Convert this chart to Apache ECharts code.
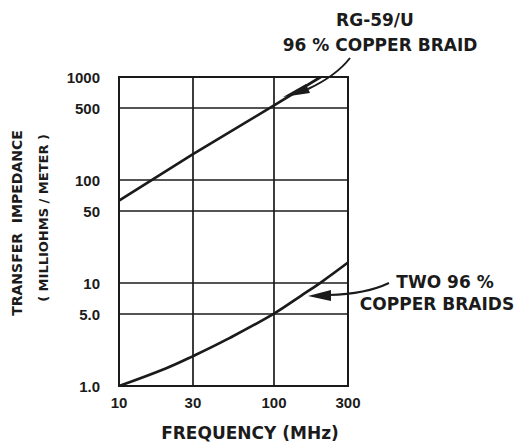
<!DOCTYPE html>
<html>
<head>
<meta charset="utf-8">
<script src="https://cdn.jsdelivr.net/npm/echarts@6/dist/echarts.min.js"></script>
<style>
  html, body { margin: 0; padding: 0; background: #ffffff; }
  #chart { width: 516px; height: 442px; }
</style>
</head>
<body>
<div id="chart"></div>
<script>
// ---- data ----
const xTicks = [10, 30, 100, 300];
const xTickLabels = ['10', '30', '100', '300'];
const yTicks = [1, 5, 10, 50, 100, 500, 1000];
const yTickLabels = ['1.0', '5.0', '10', '50', '100', '500', '1000'];

// RG-59/U, 96 % copper braid: [frequency MHz, milliohms/meter]
const rg59Freq = [10, 30, 100, 200];
const rg59Z = [63, 178, 530, 1000];

// Two 96 % copper braids
const twoBraidFreq = [10, 20, 30, 50, 100, 150, 200, 300];
const twoBraidZ = [1.0, 1.48, 1.95, 2.85, 5.05, 7.55, 10.1, 15.8];

const xTitle = 'FREQUENCY (MHz)';
const yTitle1 = 'TRANSFER  IMPEDANCE';
const yTitle2 = '( MILLIOHMS / METER )';
const note1a = 'RG-59/U';
const note1b = '96 % COPPER BRAID';
const note2a = 'TWO 96 %';
const note2b = 'COPPER BRAIDS';

const ink = '#1b1b1b';
const font = 'DejaVu Sans';

function pairs(xs, ys) { return xs.map((x, i) => [x, ys[i]]); }

const chart = echarts.init(document.getElementById('chart'), null, { renderer: 'svg' });

chart.setOption({
  backgroundColor: '#ffffff',
  animation: false,
  grid: {
    left: 119, right: 168, top: 77, bottom: 56,
    show: true, borderColor: ink, borderWidth: 2, backgroundColor: 'transparent'
  },
  xAxis: {
    type: 'log', logBase: 10, min: 10, max: 300,
    axisLine: { show: true, lineStyle: { color: ink, width: 2 } },
    axisTick: { show: false, customValues: xTicks },
    splitLine: { show: true, lineStyle: { color: ink, width: 1.7 } },
    axisLabel: {
      customValues: xTicks,
      margin: 9,
      color: ink, fontFamily: 'Liberation Sans', fontWeight: 'bold', fontSize: 15,
      formatter: v => xTickLabels[xTicks.indexOf(Math.round(v))] ?? ''
    }
  },
  yAxis: {
    type: 'log', logBase: 10, min: 1, max: 1000,
    axisLine: { show: true, lineStyle: { color: ink, width: 2 } },
    axisTick: { show: false, customValues: yTicks },
    splitLine: { show: true, lineStyle: { color: ink, width: 1.7 } },
    axisLabel: {
      customValues: yTicks,
      margin: 19,
      color: ink, fontFamily: 'Liberation Sans', fontWeight: 'bold', fontSize: 15,
      formatter: v => yTickLabels[yTicks.indexOf(Math.round(v))] ?? ''
    }
  },
  series: [
    {
      name: note1a, type: 'line', data: pairs(rg59Freq, rg59Z),
      showSymbol: false, smooth: false,
      lineStyle: { color: ink, width: 2.7 }
    },
    {
      name: note2b, type: 'line', data: pairs(twoBraidFreq, twoBraidZ),
      showSymbol: false, smooth: 0.4,
      lineStyle: { color: ink, width: 2.7 }
    }
  ],
  graphic: [
    {
      type: 'text', x: 17, y: 223, rotation: Math.PI / 2,
      style: { text: yTitle1, fill: ink, font: 'bold 14px ' + font, align: 'center', verticalAlign: 'middle' }
    },
    {
      type: 'text', x: 43, y: 218, rotation: Math.PI / 2,
      style: { text: yTitle2, fill: ink, font: 'bold 13px ' + font, align: 'center', verticalAlign: 'middle' }
    },
    {
      type: 'text', x: 250, y: 433,
      style: { text: xTitle, fill: ink, font: 'bold 17px ' + font, align: 'center', verticalAlign: 'middle' }
    },
    {
      type: 'text', x: 375, y: 20,
      style: { text: note1a, fill: ink, font: 'bold 17px ' + font, align: 'center', verticalAlign: 'middle' }
    },
    {
      type: 'text', x: 380, y: 45,
      style: { text: note1b, fill: ink, font: 'bold 17px ' + font, align: 'center', verticalAlign: 'middle' }
    },
    {
      type: 'text', x: 445, y: 282,
      style: { text: note2a, fill: ink, font: 'bold 17px ' + font, align: 'center', verticalAlign: 'middle' }
    },
    {
      type: 'text', x: 437, y: 304,
      style: { text: note2b, fill: ink, font: 'bold 17px ' + font, align: 'center', verticalAlign: 'middle' }
    },
    {
      type: 'bezierCurve',
      shape: { x1: 350, y1: 58, x2: 308, y2: 89, cpx1: 336, cpy1: 76 },
      style: { stroke: ink, lineWidth: 2, fill: null }
    },
    {
      type: 'polygon',
      shape: { points: [[283, 97], [306, 84], [310, 93]] },
      style: { fill: ink }
    },
    {
      type: 'bezierCurve',
      shape: { x1: 389, y1: 283, x2: 329, y2: 295, cpx1: 366, cpy1: 294 },
      style: { stroke: ink, lineWidth: 2, fill: null }
    },
    {
      type: 'polygon',
      shape: { points: [[308, 296], [331, 290], [331, 301]] },
      style: { fill: ink }
    }
  ]
});
</script>
</body>
</html>
